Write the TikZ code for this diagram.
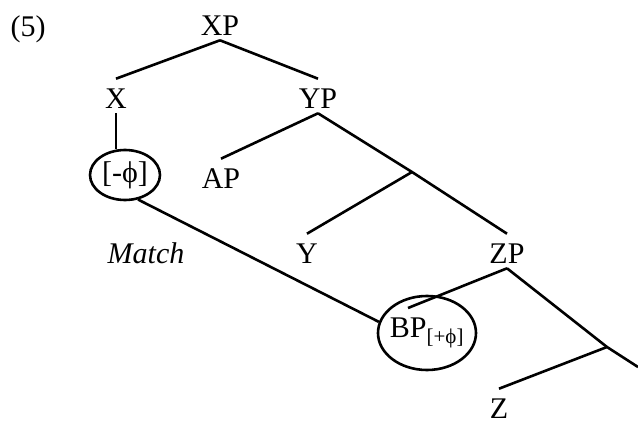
\documentclass[tikz,border=0pt]{standalone}
\usepackage{fontspec}
\setmainfont{Liberation Serif}
\usetikzlibrary{shapes.geometric}

\begin{document}
\begin{tikzpicture}[x=1pt,y=-1pt,line width=2.6pt,
  cat/.style={anchor=base,inner sep=4pt,text height=24pt,font=\fontsize{30}{34}\selectfont},
  ring/.style={draw,ellipse,inner sep=-20pt,font=\fontsize{30}{34}\selectfont}]
\useasboundingbox (0,0) rectangle (638,423);

% labels
\node[cat] (ex) at (28,36) {(5)};
\node[cat] (XP) at (220,35) {XP};
\node[cat] (X) at (116,108) {X};
\node[cat] (YP) at (318,108) {YP};
\node[cat] (AP) at (221,188) {AP};
\node[cat] (Y) at (307,263) {Y};
\node[cat] (ZP) at (507,263) {ZP};
\node[cat] (Z) at (499,418) {Z};
\node[cat,font=\fontsize{30}{34}\selectfont\itshape] (match) at (146,263) {Match};

% circled features
\node[ring,minimum width=70pt,minimum height=50pt] (phi) at (125,175) {[-ϕ]};
\node[ring,minimum width=98pt,minimum height=74pt] (bp) at (427,333) {BP\textsubscript{[+ϕ]}};

% branching points
\coordinate (b1) at (412,172);
\coordinate (b2) at (607,347);
\coordinate (cut) at (638,367);

% tree
\draw (XP.south) -- (X.north);
\draw (XP.south) -- (YP.north);
\draw (X.south) -- (X.south |- phi.north);
\draw (YP.south) -- (AP.north);
\draw (YP.south) -- (b1) -- (ZP.north);
\draw (b1) -- (Y.north);
\draw (ZP.south) -- ([xshift=-19pt,yshift=25pt]bp.center);
\draw (ZP.south) -- (b2) -- (cut);
\draw (b2) -- (Z.north);

% agreement link
\draw (phi.-62) -- (bp.167);
\end{tikzpicture}
\end{document}
